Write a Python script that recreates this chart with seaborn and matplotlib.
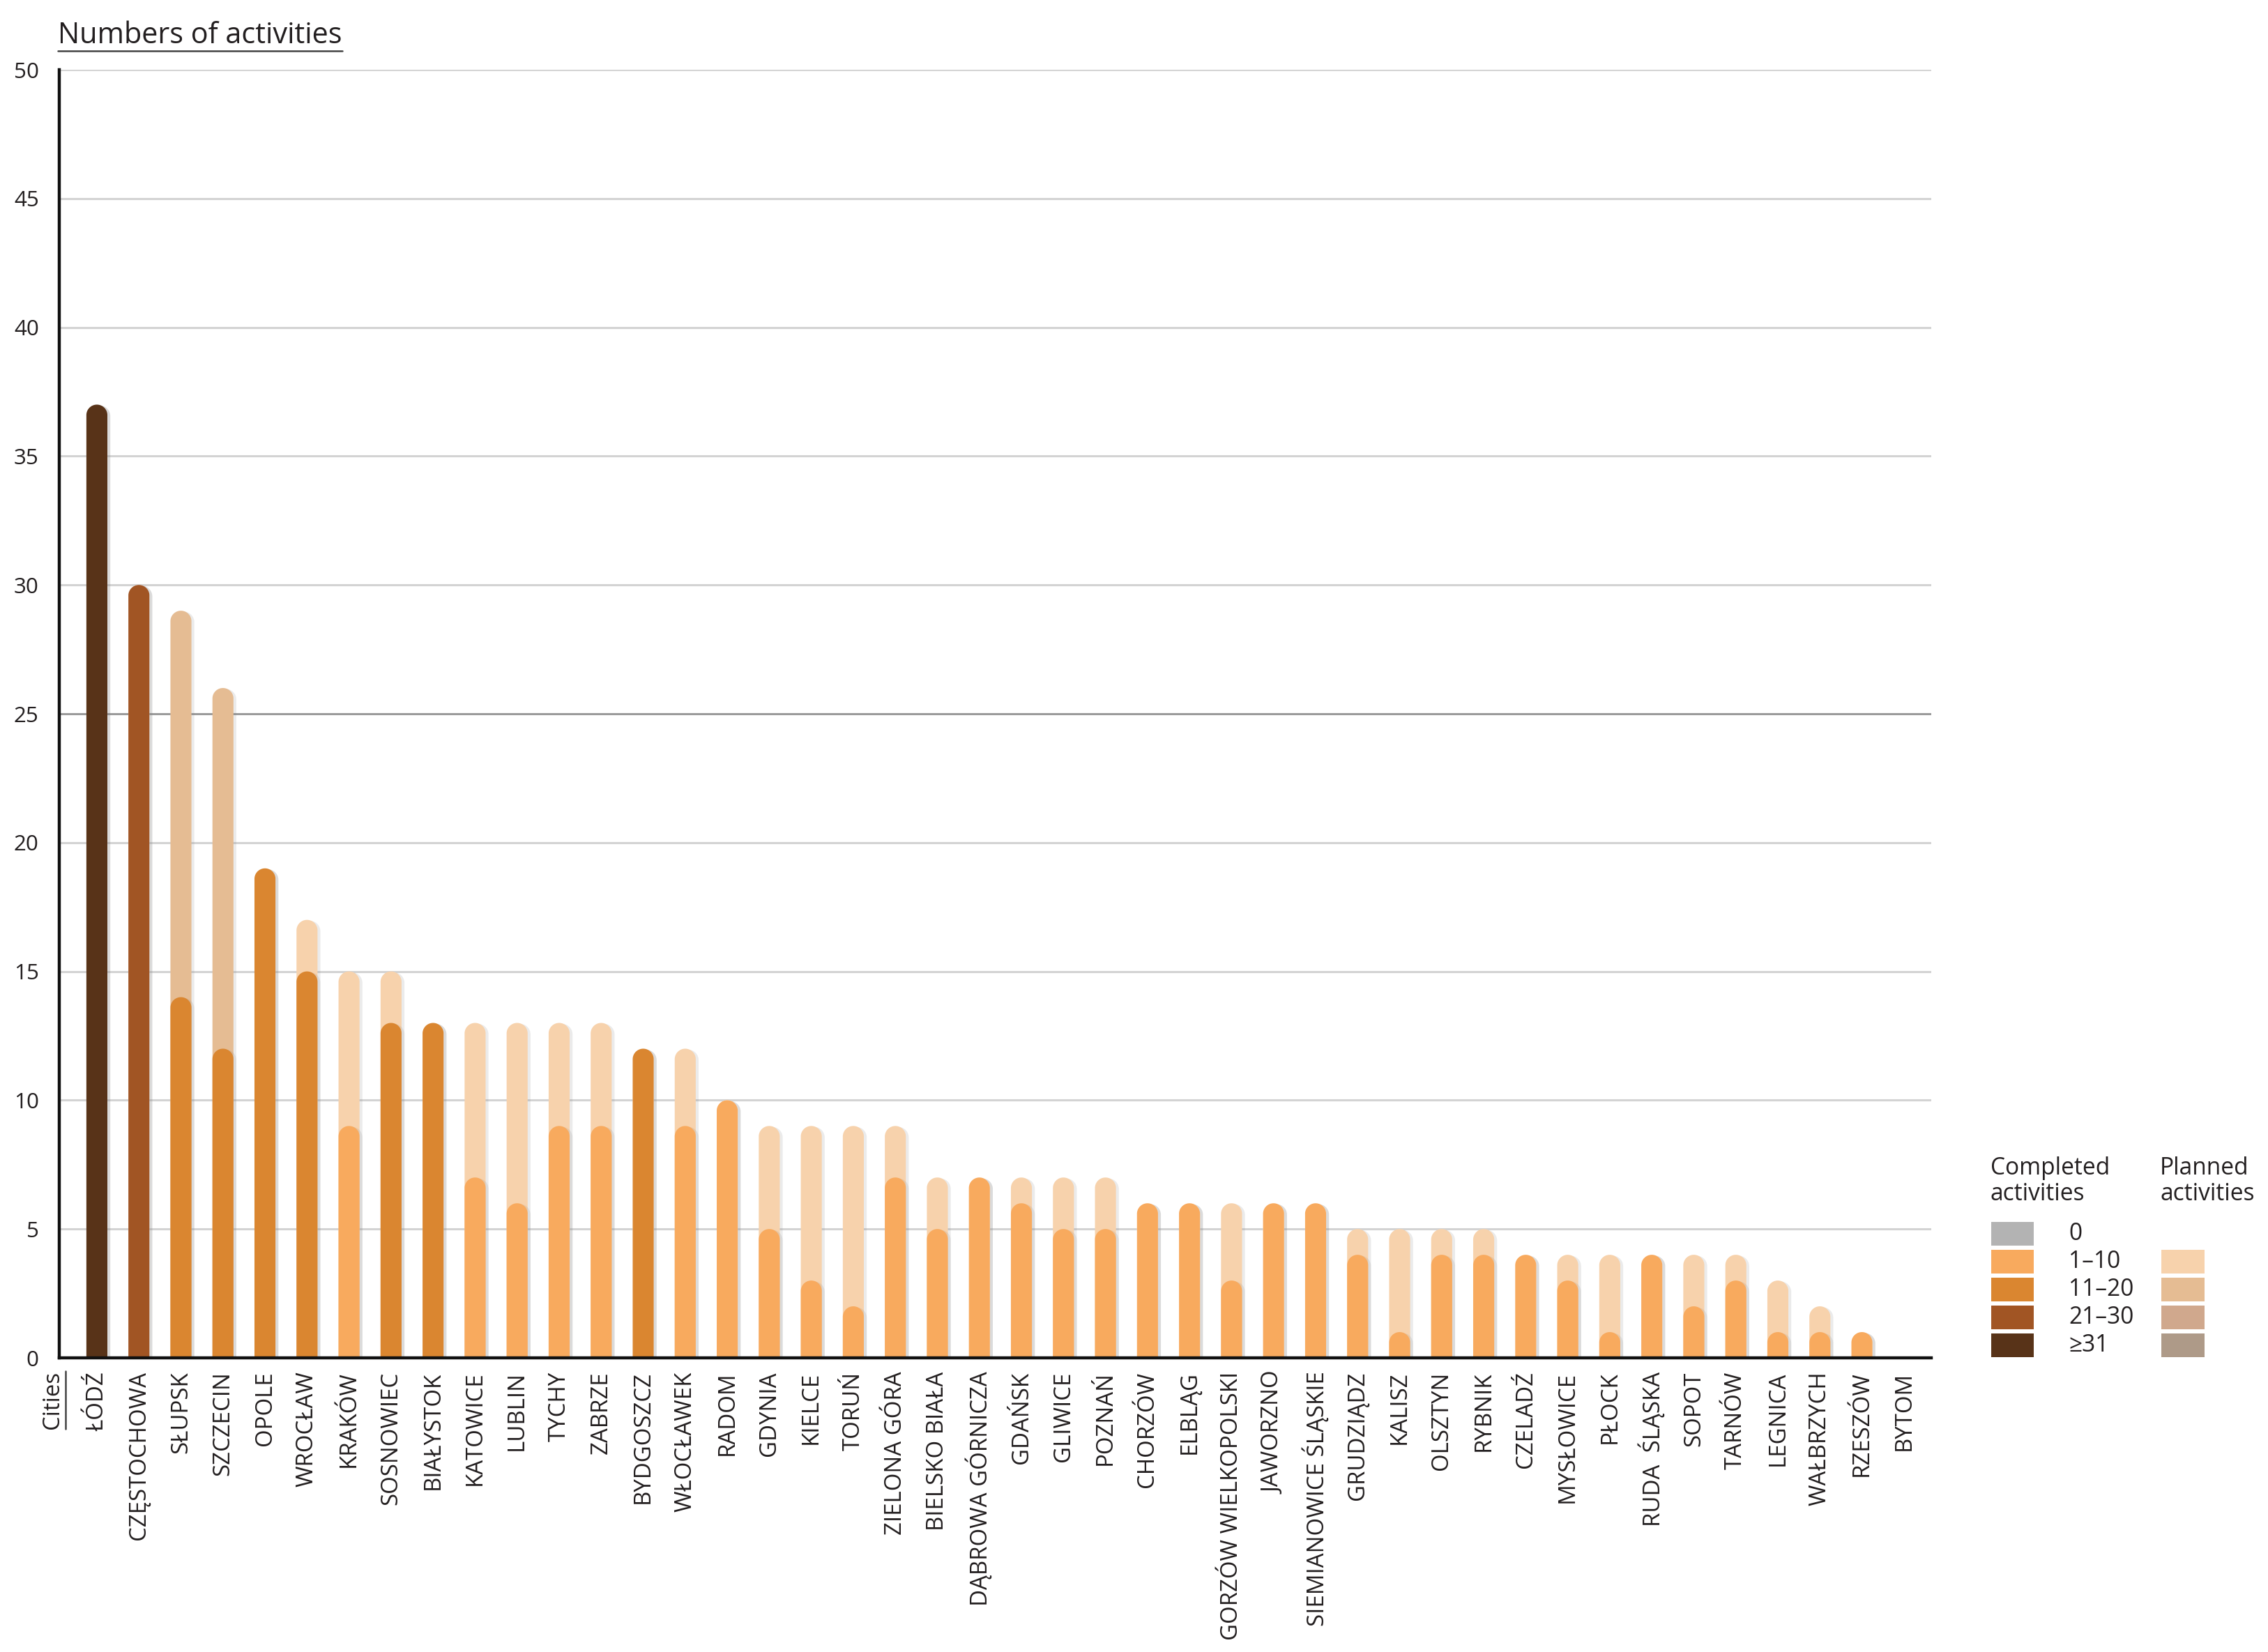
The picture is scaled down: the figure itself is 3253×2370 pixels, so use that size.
import numpy as np
import pandas as pd
import matplotlib
matplotlib.use("Agg")
import matplotlib.pyplot as plt
import matplotlib.patheffects as pe
from matplotlib.patches import Polygon, Rectangle
from matplotlib.lines import Line2D
import seaborn as sns

cities = ["ŁÓDŹ", "CZĘSTOCHOWA", "SŁUPSK", "SZCZECIN", "OPOLE", "WROCŁAW", "KRAKÓW",
          "SOSNOWIEC", "BIAŁYSTOK", "KATOWICE", "LUBLIN", "TYCHY", "ZABRZE", "BYDGOSZCZ",
          "WŁOCŁAWEK", "RADOM", "GDYNIA", "KIELCE", "TORUŃ", "ZIELONA GÓRA", "BIELSKO BIAŁA",
          "DĄBROWA GÓRNICZA", "GDAŃSK", "GLIWICE", "POZNAŃ", "CHORZÓW", "ELBLĄG",
          "GORZÓW WIELKOPOLSKI", "JAWORZNO", "SIEMIANOWICE ŚLĄSKIE", "GRUDZIĄDZ", "KALISZ",
          "OLSZTYN", "RYBNIK", "CZELADŹ", "MYSŁOWICE", "PŁOCK", "RUDA  ŚLĄSKA", "SOPOT",
          "TARNÓW", "LEGNICA", "WAŁBRZYCH", "RZESZÓW", "BYTOM"]
completed = [37, 30, 14, 12, 19, 15, 9, 13, 13, 7, 6, 9, 9, 12, 9, 10, 5, 3, 2, 7, 5,
             7, 6, 5, 5, 6, 6, 3, 6, 6, 4, 1, 4, 4, 4, 3, 1, 4, 2, 3, 1, 1, 1, 0]
total = [37, 30, 29, 26, 19, 17, 15, 15, 13, 13, 13, 13, 13, 12, 12, 10, 9, 9, 9, 9, 7,
         7, 7, 7, 7, 6, 6, 6, 6, 6, 5, 5, 5, 5, 4, 4, 4, 4, 4, 4, 3, 2, 1, 0]

bin_labels = ["0", "1–10", "11–20", "21–30", "≥31"]
completed_colors = ["#B3B3B3", "#F8AA5E", "#DA8630", "#A15524", "#583318"]
planned_colors = [None, "#F7D2AC", "#E5BC93", "#D0A88D", "#AE9A88"]

TEXT = "#231F20"


def bin_of(v):
    if v <= 0:
        return 0
    if v <= 10:
        return 1
    if v <= 20:
        return 2
    if v <= 30:
        return 3
    return 4


df = pd.DataFrame({"city": cities, "completed": completed, "total": total})
df["planned"] = df["total"] - df["completed"]
comp_pal = [completed_colors[bin_of(v)] for v in df["completed"]]
plan_pal = [planned_colors[bin_of(p)] if p > 0 else "#FFFFFF" for p in df["planned"]]

sns.set_style("white")
plt.rcParams["font.family"] = ["Open Sans", "DejaVu Sans"]

W, H = 3253, 2370
fig = plt.figure(figsize=(W / 100, H / 100), dpi=100)
rend = fig.canvas.get_renderer()


def size_for(s, target_px, base=24):
    # font size giving the wanted text width in pixels
    t = fig.text(0, 0, s, fontsize=base)
    bb = t.get_window_extent(rend)
    t.remove()
    return base * target_px / bb.width


fs_title = size_for("Numbers of activities", 410)
fs_xtick = size_for("GORZÓW WIELKOPOLSKI", 385)
fs_ytick = size_for("50", 36)
fs_cities = size_for("Cities", 83)
fs_leg = size_for("Completed", 172)

ax = fig.add_axes([85 / W, 1 - 1948 / H, (2770 - 85) / W, (1948 - 100) / H])

# planned (total) bars behind, completed bars in front
sns.barplot(data=df, x="city", y="total", hue="city", palette=plan_pal, legend=False,
            width=0.5, saturation=1, ax=ax)
n_plan = len(ax.patches)
sns.barplot(data=df, x="city", y="completed", hue="city", palette=comp_pal, legend=False,
            width=0.5, saturation=1, ax=ax)

ax.set_xlim(-0.895, 43.65)
ax.set_ylim(0, 50)

# replace the square bar tops by half circles (circular in display space)
bbox = ax.get_window_extent(rend)
px_x = bbox.width / (43.65 + 0.895)
px_y = bbox.height / 50.0
shadow = [pe.SimplePatchShadow(offset=(3, -1), shadow_rgbFace="#888888", alpha=0.16), pe.Normal()]
theta = np.linspace(np.pi, 0, 60)
patches = list(ax.patches)
for i, p in enumerate(patches):
    x, w, h = p.get_x(), p.get_width(), p.get_height()
    fc = p.get_facecolor()
    p.remove()
    if h <= 0:
        continue
    r = w / 2
    ry = r * px_x / px_y
    cy = max(h - ry, 0)
    verts = [(x, 0), (x, cy)]
    verts += list(zip(x + r + r * np.cos(theta), cy + ry * np.sin(theta)))
    verts += [(x + w, cy), (x + w, 0)]
    poly = Polygon(verts, closed=True, facecolor=fc, edgecolor="none", linewidth=0,
                   zorder=2 if i < n_plan else 3)
    poly.set_path_effects(shadow)
    ax.add_patch(poly)

# grid
for v in range(5, 55, 5):
    ax.axhline(v, color="#9B9B9B" if v == 25 else "#D3D3D3", lw=2.2, zorder=1)

sns.despine(ax=ax, top=True, right=True)
for s in ["left", "bottom"]:
    ax.spines[s].set_linewidth(3.2)
    ax.spines[s].set_color("#111111")
    ax.spines[s].set_zorder(5)

ax.set_yticks(range(0, 55, 5))
ax.set_xticks(range(len(cities)))
ax.set_xticklabels(cities, rotation=90, va="top", ha="center")
ax.tick_params(axis="y", length=0, pad=21, labelsize=fs_ytick, labelcolor=TEXT)
ax.tick_params(axis="x", length=0, pad=14, labelsize=fs_xtick, labelcolor=TEXT)
ax.set_xlabel("")
ax.set_ylabel("")

# title and axis label with underline
title = fig.text(83 / W, 1 - 62 / H, "Numbers of activities", fontsize=fs_title, color=TEXT,
                 ha="left", va="baseline")
cities_lbl = fig.text(76 / W, 1 - 1967 / H, "Cities", fontsize=fs_cities, color=TEXT,
                      rotation=90, ha="center", va="top")

tb = title.get_window_extent(rend)
fig.add_artist(Line2D([tb.x0 / W, tb.x1 / W], [(tb.y0 - 1) / H] * 2, color="#444444", lw=1.8))
cb = cities_lbl.get_window_extent(rend)
fig.add_artist(Line2D([(cb.x1 + 1) / W] * 2, [cb.y0 / H, cb.y1 / H], color="#444444", lw=1.8))

# legend
fig.text(2855 / W, 1 - 1722 / H, "Completed\nactivities", fontsize=fs_leg, color=TEXT,
         ha="left", va="baseline", linespacing=1.1)
fig.text(3098 / W, 1 - 1722 / H, "Planned\nactivities", fontsize=fs_leg, color=TEXT,
         ha="left", va="baseline", linespacing=1.1)
for k, lab in enumerate(bin_labels):
    y0 = 1753 + 40 * k
    fig.add_artist(Rectangle((2856 / W, 1 - (y0 + 34) / H), 61 / W, 34 / H,
                             facecolor=completed_colors[k], edgecolor="none"))
    fig.text(2967 / W, 1 - (y0 + 17) / H, lab, fontsize=fs_leg, color=TEXT,
             ha="left", va="center")
    if planned_colors[k] is not None:
        fig.add_artist(Rectangle((3100 / W, 1 - (y0 + 34) / H), 62 / W, 34 / H,
                                 facecolor=planned_colors[k], edgecolor="none"))

fig.savefig("out.png", dpi=100, facecolor="white")
